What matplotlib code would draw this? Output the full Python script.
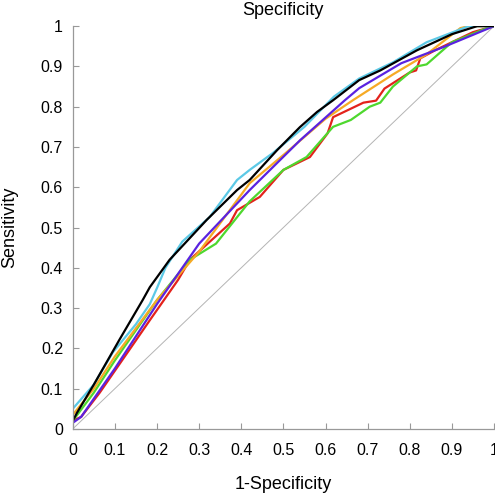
import numpy as np
import matplotlib
matplotlib.use("Agg")
import matplotlib.pyplot as plt

plt.rcParams['font.family'] = ['Liberation Sans', 'DejaVu Sans']

# ROC curves, (1-specificity, sensitivity)
black_x = [0, 0.01, 0.05, 0.11, 0.166, 0.183, 0.23, 0.318, 0.39, 0.42, 0.485, 0.539, 0.58, 0.618, 0.68, 0.73, 0.817, 0.9, 0.96, 1.0]
black_y = [0.02, 0.04, 0.11, 0.22, 0.32, 0.352, 0.42, 0.519, 0.593, 0.618, 0.692, 0.749, 0.787, 0.816, 0.866, 0.89, 0.94, 0.98, 1.0, 1.0]

cyan_x = [0, 0.05, 0.095, 0.15, 0.183, 0.2, 0.22, 0.26, 0.325, 0.39, 0.42, 0.475, 0.55, 0.62, 0.68, 0.76, 0.84, 0.94, 1.0]
cyan_y = [0.05, 0.11, 0.19, 0.26, 0.31, 0.35, 0.40, 0.465, 0.526, 0.618, 0.643, 0.685, 0.75, 0.825, 0.87, 0.91, 0.96, 1.0, 1.0]

purple_x = [0, 0.02, 0.1, 0.2, 0.3, 0.42, 0.54, 0.646, 0.68, 0.78, 0.88, 1.0]
purple_y = [0.015, 0.03, 0.15, 0.31, 0.46, 0.593, 0.717, 0.816, 0.846, 0.908, 0.948, 1.0]

orange_x = [0, 0.05, 0.1, 0.2, 0.3, 0.42, 0.5, 0.6, 0.665, 0.76, 0.84, 0.92, 0.94, 1.0]
orange_y = [0.035, 0.1, 0.18, 0.32, 0.44, 0.61, 0.68, 0.77, 0.816, 0.88, 0.93, 0.995, 1.0, 1.0]

green_x = [0, 0.05, 0.1, 0.2, 0.278, 0.34, 0.42, 0.5, 0.555, 0.618, 0.66, 0.705, 0.73, 0.76, 0.817, 0.84, 0.9, 0.99, 1.0]
green_y = [0.02, 0.09, 0.17, 0.32, 0.42, 0.46, 0.565, 0.643, 0.675, 0.75, 0.767, 0.80, 0.81, 0.85, 0.9, 0.905, 0.96, 0.998, 1.0]

red_x = [0, 0.02, 0.064, 0.15, 0.183, 0.25, 0.278, 0.373, 0.39, 0.444, 0.5, 0.563, 0.605, 0.618, 0.69, 0.72, 0.74, 0.8, 0.815, 0.825, 0.86, 0.9, 0.95, 1.0]
red_y = [0.02, 0.03, 0.09, 0.22, 0.27, 0.37, 0.42, 0.51, 0.543, 0.576, 0.643, 0.675, 0.734, 0.774, 0.81, 0.815, 0.845, 0.885, 0.89, 0.92, 0.94, 0.96, 0.985, 1.0]

ticks = np.round(np.arange(0, 1.01, 0.1), 1)
tick_labels = ['0', '0.1', '0.2', '0.3', '0.4', '0.5', '0.6', '0.7', '0.8', '0.9', '1']

fig = plt.figure(figsize=(4.95, 4.93), dpi=100)
ax = fig.add_axes([0.147, 0.13, 0.851, 0.817])

ax.plot([0, 1], [0, 1], color='#b4b4b4', lw=0.7)
ax.plot(red_x, red_y, color='#e3221b', lw=1.6)
ax.plot(green_x, green_y, color='#4ed82e', lw=1.6)
ax.plot(orange_x, orange_y, color='#f6aa25', lw=1.6)
ax.plot(purple_x, purple_y, color='#5a22e0', lw=1.6)
ax.plot(cyan_x, cyan_y, color='#5cc9e6', lw=1.6)
ax.plot(black_x, black_y, color='black', lw=1.6)

ax.set_xlim(0, 1)
ax.set_ylim(0, 1)
ax.set_xticks(ticks)
ax.set_yticks(ticks)
ax.set_xticklabels(tick_labels)
ax.set_yticklabels(tick_labels)
ax.tick_params(direction='in', length=4, color='#999999', labelsize=11.5)
ax.tick_params(axis='x', pad=10)
ax.tick_params(axis='y', pad=7)

for s in ['top', 'right']:
    ax.spines[s].set_visible(False)
for s in ['left', 'bottom']:
    ax.spines[s].set_color('#999999')
    ax.spines[s].set_linewidth(0.9)

ax.set_title('Specificity', fontsize=13, pad=8)
ax.set_xlabel('1-Specificity', fontsize=13, labelpad=13)
ax.set_ylabel('Sensitivity', fontsize=13, labelpad=16)

fig.savefig('out.png', dpi=100)
